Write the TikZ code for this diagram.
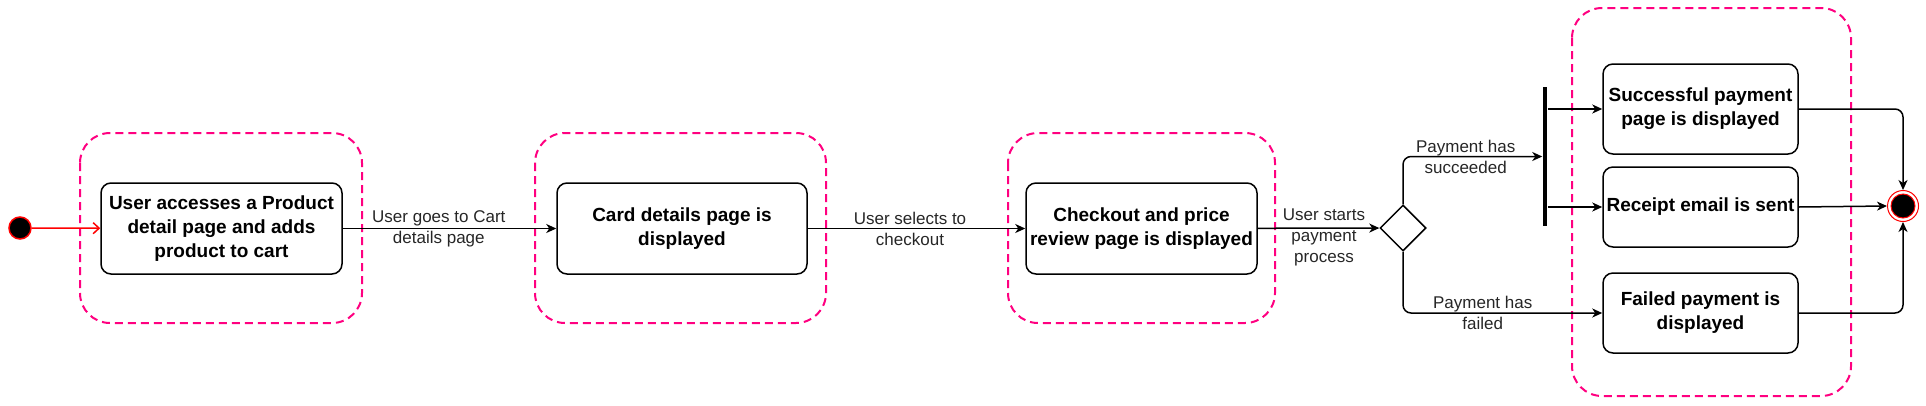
\documentclass[tikz,border=0pt]{standalone}
\usepackage{fontspec}
\setmainfont{Liberation Sans}
\usetikzlibrary{arrows.meta,shapes.geometric}
\definecolor{ink}{HTML}{000000}
\definecolor{zone}{HTML}{FF0080}
\definecolor{startred}{HTML}{FF0000}

\begin{document}
\begin{tikzpicture}[x=1pt,y=-1pt,>={Stealth[length=10pt,width=9pt,inset=3pt]},line width=1.5pt,every node/.style={font=\fontsize{17}{21}\selectfont,text=ink},state/.style={draw,rounded corners=10pt,align=center,inner sep=2pt,font=\fontsize{19}{24}\selectfont\bfseries},zonebox/.style={draw=zone,dash pattern=on 8pt off 5pt,line width=2pt,rounded corners=30pt},flow/.style={->,rounded corners=8pt},lbl/.style={align=center,text=ink!85}]
\path[use as bounding box] (0,0) rectangle (1926,405);


\draw[zonebox] (80,133) rectangle (362,323);
\draw[zonebox] (535,133) rectangle (826,323);
\draw[zonebox] (1008,133) rectangle (1275,323);
\draw[zonebox] (1572,8) rectangle (1851,396);

\node[circle,fill=black,draw=startred,minimum size=22pt,inner sep=0pt] (start) at (20,228) {};
\node[state,minimum width=241pt,minimum height=91pt] (visit) at (221.5,228.5) {User accesses a Product\\detail page and adds\\product to cart};
\node[state,minimum width=250pt,minimum height=91pt] (cart) at (682,228.5) {Card details page is\\displayed};
\node[state,minimum width=231pt,minimum height=91pt] (review) at (1141.5,228.5) {Checkout and price\\review page is displayed};
\node[draw,diamond,minimum size=46pt,inner sep=0pt] (pay) at (1403,228) {};
\node[fill=black,inner sep=0pt,minimum width=4pt,minimum height=139pt] (fork) at (1545,156.5) {};
\node[state,minimum width=195pt,minimum height=90pt] (success) at (1700.5,109) {Successful payment\\page is displayed};
\node[state,minimum width=195pt,minimum height=80pt] (receipt) at (1700.5,207) {Receipt email is sent};
\node[state,minimum width=195pt,minimum height=80pt] (failed) at (1700.5,313) {Failed payment is\\displayed};
\node[circle,draw=startred,line width=1pt,fill=white,minimum size=31pt,inner sep=0pt] (stop) at (1903,206) {};
\node[circle,draw=startred,line width=1pt,fill=black,minimum size=24pt,inner sep=0pt] (stopdot) at (stop) {};

\draw[->,startred,>={Straight Barb[length=6pt,width=11pt]}] (start) -- (visit);
\draw[->] (visit) -- node[lbl,pos=.45] {User goes to Cart\\details page} (cart);
\draw[->] (cart) -- node[lbl,pos=.47] {User selects to\\checkout} (review);
\draw[->] (review) -- node[lbl,pos=.545,yshift=-9pt] {User starts\\payment\\process} (pay);
\draw[flow] (pay.north) |- node[lbl,pos=.725] {Payment has\\succeeded} (fork.west);
\draw[flow] (pay.south) |- node[lbl,pos=.7] {Payment has\\failed} (failed.west);
\draw[->] (fork.east |- success.west) -- (success.west);
\draw[->] (fork.east |- receipt.west) -- (receipt.west);
\draw[flow] (success.east) -| (stop.north);
\draw[->] (receipt.east) -- (stop.west);
\draw[flow] (failed.east) -| (stop.south);

\end{tikzpicture}
\end{document}
